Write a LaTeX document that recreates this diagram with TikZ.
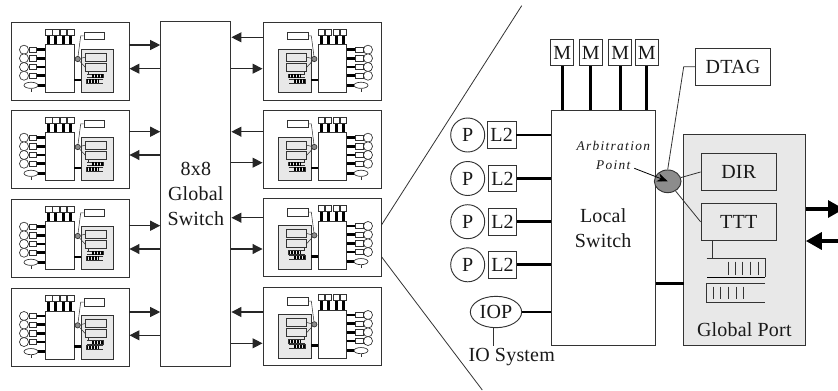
\documentclass[tikz,border=0pt]{standalone}
\usepackage{fontspec}
\setmainfont[LetterSpace=1]{Liberation Serif}
\newfontfamily\notefont[LetterSpace=10]{Liberation Serif}
\usetikzlibrary{arrows.meta,shapes.geometric}
\tikzset{
  unit/.style={
    % The shape:
    rectangle,
    inner sep=0pt,
    % The border:
    draw=black!80,
    line width=0.7pt,
    fill=white},
  portbox/.style={unit,fill=black!9},
  thinline/.style={draw=black!80,line width=0.6pt},
  bus/.style={draw=black,line width=2pt},
  sig/.style={draw=black!85,line width=0.8pt,-{Triangle[length=7.5pt,width=7.5pt]}},
  fatsig/.style={draw=black,line width=3.4pt,-{Triangle[length=12pt,width=12.5pt]}},
  tinyunit/.style={unit,line width=0.5pt},
  tinyline/.style={draw=black!80,line width=0.4pt},
  tinybar/.style={draw=black,line width=0.45pt},
  labeltext/.style={font=\fontsize{15}{18.75}\selectfont,align=center,text=black!90}
}
\newcommand{\minimodule}{
  \node (box) [unit,minimum width=88.5pt,minimum height=58.5pt] at (59,39) {};
  \node (lsw) [tinyunit,minimum width=21.2pt,minimum height=36pt] at (48.8,46.7) {};
  \node (gpt) [portbox,line width=0.5pt,minimum width=24.5pt,minimum height=32.5pt] at (86.3,49) {};
  \node (dir) [tinyunit,fill=black!9,minimum width=15.2pt,minimum height=5.8pt] at (84.8,35.2) {};
  \node (ttt) [tinyunit,fill=black!9,minimum width=15.2pt,minimum height=6pt] at (84.8,45.3) {};
  \node (dtg) [tinyunit,minimum width=15.2pt,minimum height=5.8pt] at (83.2,13.8) {};
  \node (arb) [tinyunit,circle,fill=black!45,minimum size=4pt] at (66.7,37) {};
  \foreach \i/\x in {1/37.7,2/44.7,3/52.5,4/59.8} {
    \node (mem\i) [tinyunit,minimum width=4.7pt,minimum height=4.3pt] at (\x,10.3) {};
    \draw[bus] (mem\i.south) -- (mem\i.south |- lsw.north);
  }
  \foreach \i/\y in {1/27.7,2/36.3,3/45,4/53.7} {
    \node (cpu\i) [tinyunit,circle,minimum size=6.8pt] at (13,\y) {};
    \node (l2\i) [tinyunit,minimum width=5.5pt,minimum height=3.8pt] at (21.7,\y) {};
    \draw[bus] (l2\i.east) -- (l2\i.east -| lsw.west);
  }
  \node (iop) [tinyunit,ellipse,minimum width=10.5pt,minimum height=4.6pt] at (20,63.3) {};
  \draw[bus] (iop.east) -- (iop.east -| lsw.west);
  \coordinate (iob) at (20,70);
  \draw[tinyline] (iop.south) -- (iob);
  \coordinate (gptin) at (70,58);
  \draw[bus] (gptin) -- (gptin -| lsw.east);
  \coordinate (dtgk) at (69.7,13.8);
  \draw[tinyline] (dtg.west) -- (dtgk) -- (arb);
  \draw[tinyline] (arb) -- (dir.west);
  \draw[tinyline] (arb) -- (ttt.west);
  % the two queues
  \coordinate (stub) at (77,53);
  \draw[tinyline] (ttt.south -| stub) -- (stub);
  \draw[tinyline] (76,52.3) -- (92.3,52.3) -- (92.3,55.7) -- (76,55.7);
  \draw[tinyline] (92.3,57.3) -- (75.7,57.3) -- (75.7,60.9) -- (92.3,60.9);
  \foreach \x in {81,82.5,...,91.5} \draw[tinybar] (\x,52.3) -- (\x,55.7);
  \foreach \x in {76.5,78,...,87} \draw[tinybar] (\x,57.3) -- (\x,60.9);
}
\begin{document}
\begin{tikzpicture}[x=0.75pt,y=-0.75pt]
  \useasboundingbox (0,0) rectangle (838,390);

  % the eight small modules
  \foreach \nm/\ox/\oy/\sx in {ml1/11/22/1,ml2/11/110/1,ml3/11/199/1,ml4/11/288.3/1,
                               mr1/381/22/-1,mr2/381/110/-1,mr3/381/198.3/-1,mr4/381/287.3/-1} {
    \begin{scope}[shift={(\ox,\oy)},xscale=\sx,name prefix=\nm-,every node/.append style={transform shape}]
      \minimodule
    \end{scope}
  }

  \node (gsw) [unit,labeltext,minimum width=52.7pt,minimum height=258.8pt] at (195.8,194.2) {8x8\\Global\\Switch};

  \foreach \nm/\side/\ya/\yb in {ml1/west/45/68.7,ml2/west/131.7/155,ml3/west/225.7/249,ml4/west/312/335.3,
                                 mr1/east/37.3/68.7,mr2/east/131.7/162.7,mr3/east/217.7/249,mr4/east/312/343.3} {
    \draw[sig] (\nm-box.east |- 0,\ya) -- (gsw.\side |- 0,\ya);
    \draw[sig] (gsw.\side |- 0,\yb) -- (\nm-box.east |- 0,\yb);
  }

  % the enlarged module
  \coordinate (ztop) at (521.7,5.7);
  \coordinate (zbot) at (482.3,390);
  \draw[thinline] (mr3-box.west |- 0,225) -- (ztop);
  \draw[thinline] (mr3-box.west |- 0,256.7) -- (zbot);

  \node (lsw) [unit,labeltext,minimum width=78.2pt,minimum height=176.5pt] at (603.2,227.7) {Local\\Switch};
  \node (gpt) [portbox,minimum width=91.2pt,minimum height=158pt] at (744.5,240) {};
  \node (dir) [portbox,labeltext,minimum width=56.5pt,minimum height=28pt] at (738.7,172) {DIR};
  \node (ttt) [portbox,labeltext,minimum width=56.5pt,minimum height=27.8pt] at (738.7,221.8) {TTT};
  \node (dtg) [unit,labeltext,minimum width=56.5pt,minimum height=28pt] at (733,66.7) {DTAG};
  \node (gptlbl) [labeltext] at (744.3,330) {Global Port};
  \node (arb) [unit,ellipse,fill=black!45,minimum width=20pt,minimum height=17pt] at (667.7,181.3) {};
  \node (arbtxt) [font=\notefont\fontsize{10}{13.7}\selectfont\itshape,align=center,text=black!90] at (613.3,155.5) {Arbitration\\Point};
  \coordinate (arbtail) at (634.3,168.3);

  \foreach \i/\x in {1/562.2,2/590.7,3/620.2,4/646.8} {
    \node (mem\i) [unit,labeltext,minimum width=17.3pt,minimum height=19.8pt] at (\x,52.5) {M};
    \draw[bus] (mem\i.south) -- (mem\i.south |- lsw.north);
  }
  \foreach \i/\xa/\xb/\y in {1/467.7/501.7/135,2/467.7/502.5/178.5,3/467.7/502.5/221.7,4/467.7/502.5/264.8} {
    \node (cpu\i) [unit,labeltext,circle,minimum size=25.5pt] at (\xa,\y) {P};
    \node (l2\i) [unit,labeltext,minimum width=21.4pt,minimum height=20pt] at (\xb,\y) {L2};
    \draw[bus] (l2\i.east) -- (l2\i.east -| lsw.west);
  }
  \node (iop) [unit,labeltext,ellipse,minimum width=38.5pt,minimum height=23.5pt] at (496,312) {IOP};
  \node (iosys) [labeltext] at (511.7,357.3) {IO System};
  \coordinate (iotop) at (493.3,327.5);
  \coordinate (iobot) at (493.3,345.7);
  \draw[bus] (iop.east) -- (iop.east -| lsw.west);
  \draw[thinline] (iotop) -- (iobot);

  \coordinate (gptin) at (683.7,283.7);
  \draw[bus] (gptin) -- (gptin -| lsw.east);
  \coordinate (dtgk) at (683.7,66.7);
  \draw[thinline] (dtg.west) -- (dtgk) -- (arb.north);
  \draw[thinline] (arb) -- (dir.west);
  \draw[thinline] (arb) -- (ttt.west);
  \draw[draw=black,line width=0.6pt,-{Stealth[length=8pt,width=6.5pt]}] (arbtail) -- (arb.center);

  % the two queues
  \coordinate (stub) at (712.7,258.3);
  \draw[thinline] (ttt.south -| stub) -- (stub);
  \draw[thinline] (706.7,258.3) -- (765,258.3) -- (765,277.3);
  \draw[draw=black,line width=0.7pt] (765,277.3) -- (706.7,277.3);
  \draw[thinline] (765,283.3) -- (706.7,283.3) -- (706.7,302.3) -- (765,302.3);
  \foreach \x in {728.3,735.7,742.7,750,758.3} \draw[thinline] (\x,261.7) -- (\x,275);
  \foreach \x in {713.3,720.7,728.3,736,743.3} \draw[thinline] (\x,286.7) -- (\x,299.3);

  \coordinate (outtip) at (844,209);
  \coordinate (intail) at (838,241);
  \draw[fatsig] (gpt.east |- outtip) -- (outtip);
  \draw[fatsig] (intail) -- (gpt.east |- intail);
\end{tikzpicture}
\end{document}
